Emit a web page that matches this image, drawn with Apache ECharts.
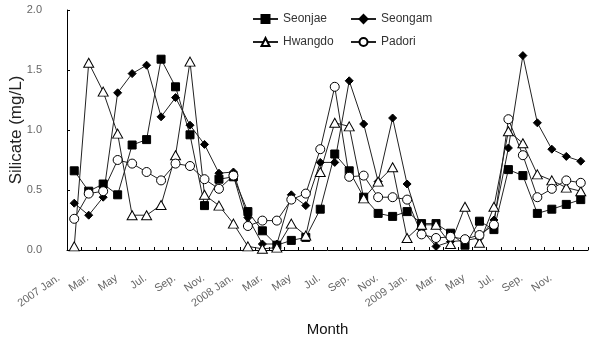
<!DOCTYPE html>
<html>
<head>
<meta charset="utf-8">
<script src="https://cdn.jsdelivr.net/npm/echarts@6/dist/echarts.min.js"></script>
<style>
html,body{margin:0;padding:0;background:#fff;}
#chart{width:589px;height:343px;}
</style>
</head>
<body>
<div id="chart"></div>
<script>
var months = ['2007 Jan.','Feb.','Mar.','Apr.','May','Jun.','Jul.','Aug.','Sep.','Oct.','Nov.','Dec.',
              '2008 Jan.','Feb.','Mar.','Apr.','May','Jun.','Jul.','Aug.','Sep.','Oct.','Nov.','Dec.',
              '2009 Jan.','Feb.','Mar.','Apr.','May','Jun.','Jul.','Aug.','Sep.','Oct.','Nov.','Dec.'];
var seonjae = [0.66,0.49,0.55,0.46,0.875,0.92,1.59,1.36,0.96,0.37,0.59,0.61,
               0.32,0.16,0.04,0.08,0.105,0.34,0.80,0.66,0.44,0.305,0.28,0.32,
               0.22,0.22,0.14,0.04,0.24,0.17,0.67,0.62,0.305,0.34,0.38,0.42];
var seongam = [0.39,0.29,0.44,1.31,1.47,1.54,1.11,1.27,1.04,0.88,0.64,0.65,
               0.27,0.05,0.05,0.46,0.37,0.73,0.73,1.41,1.05,0.57,1.10,0.55,
               0.17,0.03,0.07,0.08,0.10,0.25,0.85,1.62,1.06,0.84,0.78,0.74];
var hwangdo = [0.03,1.56,1.32,0.97,0.29,0.29,0.375,0.79,1.57,0.46,0.37,0.22,
               0.03,0.01,0.02,0.22,0.12,0.65,1.06,1.03,0.43,0.57,0.69,0.10,
               0.21,0.21,0.05,0.36,0.06,0.36,0.99,0.89,0.63,0.58,0.52,0.49];
var padori  = [0.26,0.47,0.49,0.75,0.72,0.65,0.58,0.72,0.70,0.59,0.51,0.62,
               0.20,0.245,0.245,0.42,0.47,0.84,1.36,0.61,0.62,0.44,0.44,0.42,
               0.13,0.10,0.11,0.09,0.125,0.21,1.09,0.79,0.44,0.51,0.58,0.56];
var yTicks = [0, 0.5, 1.0, 1.5, 2.0];

var FONT = '"Liberation Sans", Arial, sans-serif';
var chart = echarts.init(document.getElementById('chart'));
function mk(name, data, symbol, size, filled) {
  return {
    name: name, type: 'line', data: data,
    symbol: symbol, symbolSize: size, showAllSymbol: true,
    lineStyle: { color: '#222', width: 1 },
    itemStyle: filled ? { color: '#000', borderColor: '#000', borderWidth: 1 }
                      : { color: '#fff', borderColor: '#000', borderWidth: 1 },
    emphasis: { disabled: true },
    animation: false
  };
}
chart.setOption({
  animation: false,
  textStyle: { fontFamily: FONT },
  grid: { left: 67, right: 1, top: 10, bottom: 93, containLabel: false, outerBoundsMode: 'none' },
  legend: [
    { data: ['Seonjae', 'Hwangdo'], orient: 'vertical', left: 247, top: 8,
      itemWidth: 25, itemHeight: 10, itemGap: 11,
      textStyle: { fontSize: 12, color: '#333', fontFamily: FONT } },
    { data: ['Seongam', 'Padori'], orient: 'vertical', left: 345, top: 8,
      itemWidth: 25, itemHeight: 10, itemGap: 11,
      textStyle: { fontSize: 12, color: '#333', fontFamily: FONT } }
  ],
  xAxis: {
    type: 'category', data: months, boundaryGap: true,
    name: 'Month', nameLocation: 'middle', nameGap: 72, nameMoveOverlap: false,
    nameTextStyle: { fontSize: 15, color: '#111', fontFamily: FONT },
    axisLine: { lineStyle: { color: '#000', width: 1 } },
    axisTick: { show: true, inside: true, length: 3, interval: 0, lineStyle: { color: '#000' } },
    axisLabel: { interval: 1, rotate: 35, color: '#666', fontSize: 11, margin: 16, fontFamily: FONT,
                 formatter: function (v) { return '{t|' + v + '}{g|}'; },
                 rich: { t: { color: '#666', fontSize: 11, fontFamily: FONT },
                         g: { width: 19 } } },
    splitLine: { show: false }
  },
  yAxis: {
    type: 'value', min: 0, max: 2, interval: 0.5,
    name: 'Silicate (mg/L)', nameLocation: 'middle', nameGap: 42, nameRotate: 90, nameMoveOverlap: false,
    nameTextStyle: { fontSize: 17, color: '#222', fontFamily: FONT },
    axisLine: { show: true, lineStyle: { color: '#000', width: 1 } },
    axisTick: { show: true, inside: true, length: 3, lineStyle: { color: '#000' } },
    axisLabel: { color: '#666', fontSize: 11, margin: 25, fontFamily: FONT,
                 formatter: function (v) { return yTicks.indexOf(v) >= 0 ? v.toFixed(1) : ''; } },
    splitLine: { show: false }
  },
  series: [
    mk('Seonjae', seonjae, 'rect', 8, true),
    mk('Seongam', seongam, 'diamond', 8, true),
    mk('Hwangdo', hwangdo, 'triangle', [10, 9], false),
    mk('Padori', padori, 'circle', 9, false)
  ]
});
</script>
</body>
</html>
